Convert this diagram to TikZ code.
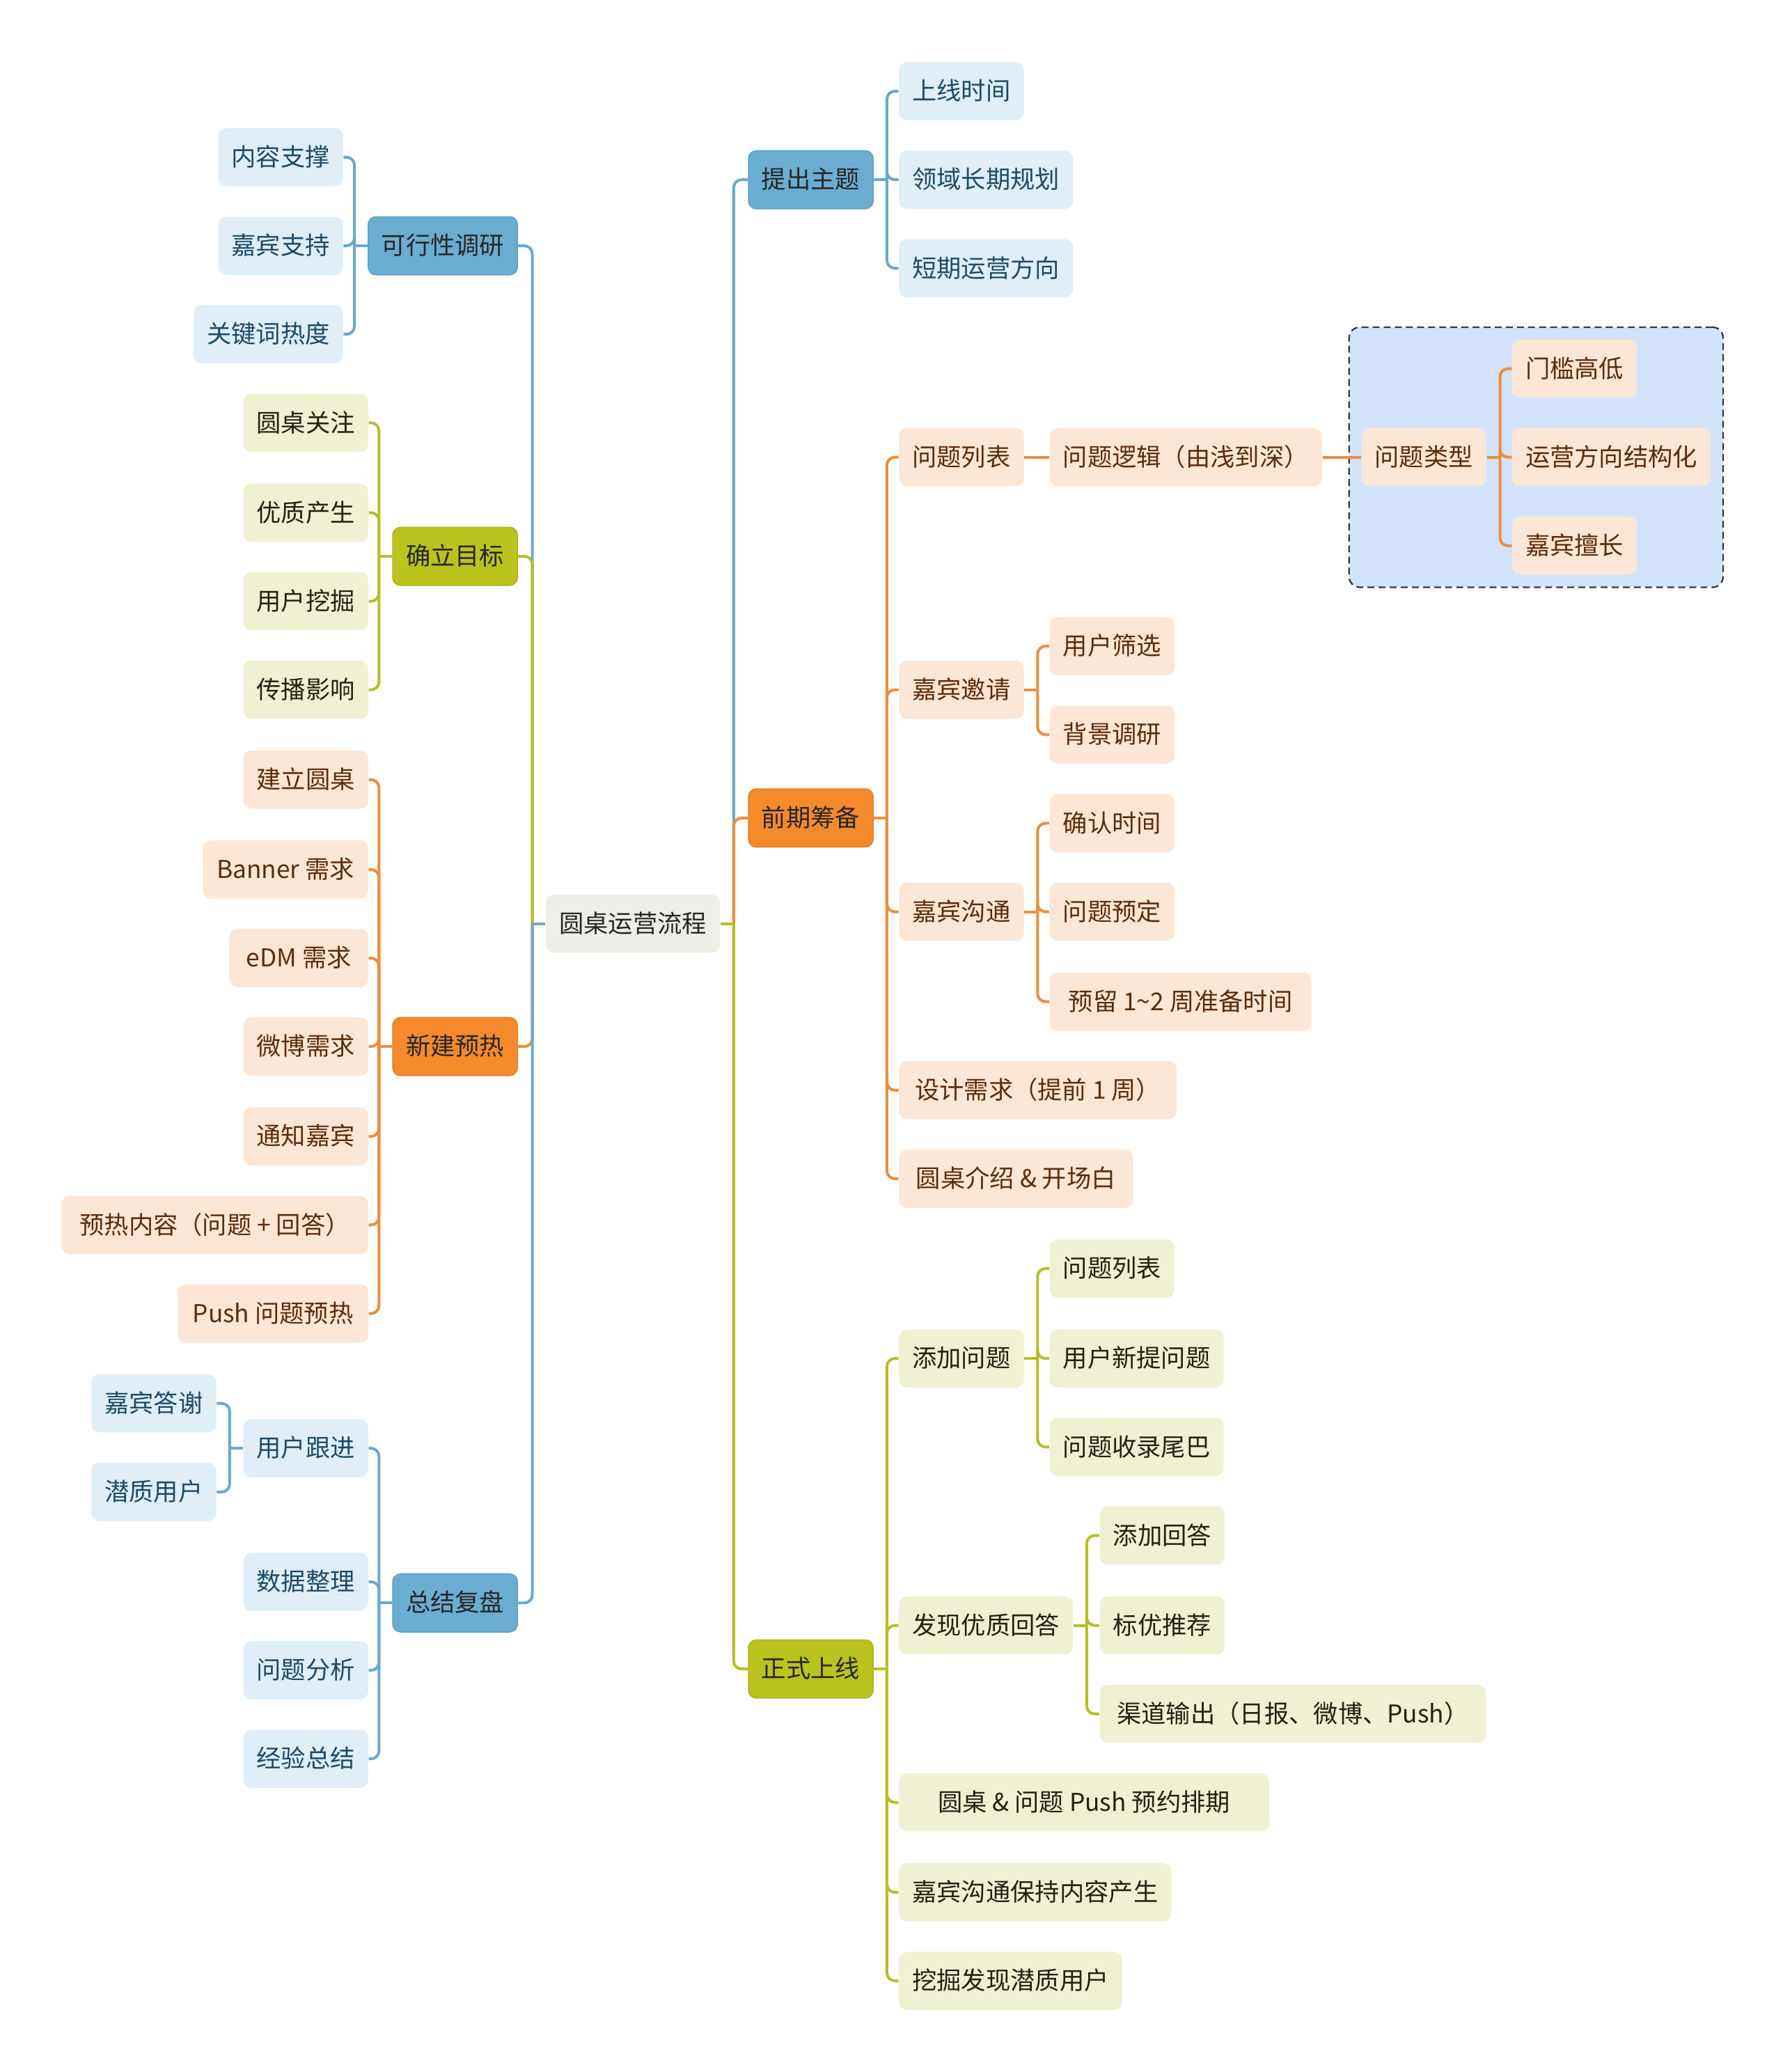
\documentclass[tikz,border=0pt]{standalone}
\usepackage{fontspec}
\setmainfont{Noto Sans CJK SC}
\usetikzlibrary{backgrounds,fit}
\definecolor{bluemain}{HTML}{6AADD0}
\definecolor{bluelight}{HTML}{DFEEF7}
\definecolor{bluetext}{HTML}{1D4A66}
\definecolor{blueline}{HTML}{6AA9CB}
\definecolor{orgmain}{HTML}{F58A2D}
\definecolor{orglight}{HTML}{FCE6D5}
\definecolor{orgtext}{HTML}{5C2C0C}
\definecolor{orgline}{HTML}{EE8D3C}
\definecolor{grnmain}{HTML}{BAC31E}
\definecolor{grnlight}{HTML}{EFF1D2}
\definecolor{grntext}{HTML}{222211}
\definecolor{grnline}{HTML}{B6BE27}
\definecolor{rootfill}{HTML}{EEEEE8}
\definecolor{boundfill}{HTML}{D3E3FB}
\definecolor{boundline}{HTML}{333840}
\tikzset{
  box/.style={rounded corners=3pt, minimum height=22pt, inner xsep=5pt, inner ysep=0pt,
    text height=7.3pt, text depth=0.6pt, font=\fontsize{9.3pt}{11pt}\selectfont},
  rootbox/.style={box, fill=rootfill, text=black!85},
  lvb/.style={box, fill=bluemain, draw=bluemain!92!black, line width=0.4pt, text=black!85},
  lvo/.style={box, fill=orgmain, draw=orgmain!92!black, line width=0.4pt, text=black!85},
  lvg/.style={box, fill=grnmain, draw=grnmain!92!black, line width=0.4pt, text=black!85},
  cb/.style={box, fill=bluelight, text=bluetext},
  co/.style={box, fill=orglight, text=orgtext},
  cg/.style={box, fill=grnlight, text=grntext},
  conn/.style={line width=1.05pt},
}
\newcommand\rconn[3]{%
  \draw[conn,#1] (#2.east) -- ++(10,0);
  \draw[conn,#1,rounded corners=3pt] ([xshift=5pt]#2.east) |- (#3.west);}
\newcommand\lconn[3]{%
  \draw[conn,#1] (#2.west) -- ++(-10,0);
  \draw[conn,#1,rounded corners=3pt] ([xshift=-5pt]#2.west) |- (#3.east);}
\begin{document}
\begin{tikzpicture}[x=0.5pt,y=-0.5pt]
\begin{pgfonlayer}{background}
\fill[white] (0,0) rectangle (1349,1568);
\end{pgfonlayer}
\useasboundingbox (0,0) rectangle (1349,1568);

% root
\node[rootbox] (root) at (479,699) {圆桌运营流程};

% right main topics
\node[lvb, anchor=west] (tc) at (566,136) {提出主题};
\node[lvo, anchor=west] (qq) at (566,619) {前期筹备};
\node[lvg, anchor=west] (zs) at (566,1263) {正式上线};

% left main topics
\node[lvb, anchor=east, minimum width=55.5pt] (kx) at (392,186) {可行性调研};
\node[lvg, anchor=east] (ql) at (392,421) {确立目标};
\node[lvo, anchor=east] (xj) at (392,792) {新建预热};
\node[lvb, anchor=east] (zj) at (392,1213) {总结复盘};

% 提出主题
\node[cb, anchor=west] (t1) at (680,69) {上线时间};
\node[cb, anchor=west] (t2) at (680,136) {领域长期规划};
\node[cb, anchor=west] (t3) at (680,203) {短期运营方向};

% 可行性调研
\node[cb, anchor=east] (k1) at (260,119) {内容支撑};
\node[cb, anchor=east] (k2) at (260,186) {嘉宾支持};
\node[cb, anchor=east] (k3) at (260,253) {关键词热度};

% 确立目标
\node[cg, anchor=east] (g1) at (279,320) {圆桌关注};
\node[cg, anchor=east] (g2) at (279,388) {优质产生};
\node[cg, anchor=east] (g3) at (279,455) {用户挖掘};
\node[cg, anchor=east] (g4) at (279,522) {传播影响};

% 新建预热
\node[co, anchor=east] (x1) at (279,590) {建立圆桌};
\node[co, anchor=east, minimum width=62.5pt] (x2) at (279,658) {Banner 需求};
\node[co, anchor=east, minimum width=52.5pt] (x3) at (279,725) {eDM 需求};
\node[co, anchor=east] (x4) at (279,792) {微博需求};
\node[co, anchor=east] (x5) at (279,860) {通知嘉宾};
\node[co, anchor=east, minimum width=116pt] (x6) at (279,927) {预热内容（问题 + 回答）};
\node[co, anchor=east, minimum width=72pt] (x7) at (279,994) {Push 问题预热};

% 总结复盘
\node[cb, anchor=east] (z1) at (279,1096) {用户跟进};
\node[cb, anchor=east] (z2) at (279,1197) {数据整理};
\node[cb, anchor=east] (z3) at (279,1264) {问题分析};
\node[cb, anchor=east] (z4) at (279,1331) {经验总结};
\node[cb, anchor=east] (z11) at (164,1062) {嘉宾答谢};
\node[cb, anchor=east] (z12) at (164,1129) {潜质用户};

% 前期筹备
\node[co, anchor=west] (p1) at (680,346) {问题列表};
\node[co, anchor=west] (p2) at (680,522) {嘉宾邀请};
\node[co, anchor=west] (p3) at (680,690) {嘉宾沟通};
\node[co, anchor=west, minimum width=105pt] (p4) at (680,825) {设计需求（提前 1 周）};
\node[co, anchor=west, minimum width=88.5pt] (p5) at (680,892) {圆桌介绍 \& 开场白};
\node[co, anchor=west, minimum width=103pt] (p11) at (794,346) {问题逻辑（由浅到深）};
\node[co, anchor=west] (p111) at (1030,346) {问题类型};
\node[co, anchor=west] (q1) at (1144,279) {门槛高低};
\node[co, anchor=west] (q2) at (1144,346) {运营方向结构化};
\node[co, anchor=west] (q3) at (1144,413) {嘉宾擅长};
\node[co, anchor=west] (p21) at (794,489) {用户筛选};
\node[co, anchor=west] (p22) at (794,556) {背景调研};
\node[co, anchor=west] (p31) at (794,623) {确认时间};
\node[co, anchor=west] (p32) at (794,690) {问题预定};
\node[co, anchor=west, minimum width=99pt] (p33) at (794,758) {预留 1\textasciitilde 2 周准备时间};

% 正式上线
\node[cg, anchor=west] (s1) at (680,1028) {添加问题};
\node[cg, anchor=west] (s2) at (680,1230) {发现优质回答};
\node[cg, anchor=west, minimum width=140pt] (s3) at (680,1364) {圆桌 \& 问题 Push 预约排期};
\node[cg, anchor=west] (s4) at (680,1432) {嘉宾沟通保持内容产生};
\node[cg, anchor=west] (s5) at (680,1499) {挖掘发现潜质用户};
\node[cg, anchor=west] (s11) at (794,960) {问题列表};
\node[cg, anchor=west] (s12) at (794,1028) {用户新提问题};
\node[cg, anchor=west] (s13) at (794,1095) {问题收录尾巴};
\node[cg, anchor=west] (s21) at (832,1162) {添加回答};
\node[cg, anchor=west] (s22) at (832,1230) {标优推荐};
\node[cg, anchor=west, minimum width=146pt] (s23) at (832,1297) {渠道输出（日报、微博、Push）};

% boundary
\begin{pgfonlayer}{background}
\node[fit=(p111)(q1)(q2)(q3), inner sep=4.5pt, rounded corners=4pt, fill=boundfill,
  draw=boundline, line width=0.6pt, dash pattern=on 2.6pt off 1.6pt] (bnd) {};
\end{pgfonlayer}

% connectors: root
\rconn{blueline}{root}{tc}
\rconn{orgline}{root}{qq}
\rconn{grnline}{root}{zs}
\lconn{blueline}{root}{kx}
\lconn{grnline}{root}{ql}
\lconn{orgline}{root}{xj}
\lconn{blueline}{root}{zj}

% 提出主题
\rconn{blueline}{tc}{t1}
\rconn{blueline}{tc}{t2}
\rconn{blueline}{tc}{t3}
% 可行性调研
\lconn{blueline}{kx}{k1}
\lconn{blueline}{kx}{k2}
\lconn{blueline}{kx}{k3}
% 确立目标
\lconn{grnline}{ql}{g1}
\lconn{grnline}{ql}{g2}
\lconn{grnline}{ql}{g3}
\lconn{grnline}{ql}{g4}
% 新建预热
\lconn{orgline}{xj}{x1}
\lconn{orgline}{xj}{x2}
\lconn{orgline}{xj}{x3}
\lconn{orgline}{xj}{x4}
\lconn{orgline}{xj}{x5}
\lconn{orgline}{xj}{x6}
\lconn{orgline}{xj}{x7}
% 总结复盘
\lconn{blueline}{zj}{z1}
\lconn{blueline}{zj}{z2}
\lconn{blueline}{zj}{z3}
\lconn{blueline}{zj}{z4}
\lconn{blueline}{z1}{z11}
\lconn{blueline}{z1}{z12}
% 前期筹备
\rconn{orgline}{qq}{p1}
\rconn{orgline}{qq}{p2}
\rconn{orgline}{qq}{p3}
\rconn{orgline}{qq}{p4}
\rconn{orgline}{qq}{p5}
\draw[conn,orgline] (p1.east) -- (p11.west);
\draw[conn,orgline] (p11.east) -- (p111.west);
\rconn{orgline}{p111}{q1}
\rconn{orgline}{p111}{q2}
\rconn{orgline}{p111}{q3}
\rconn{orgline}{p2}{p21}
\rconn{orgline}{p2}{p22}
\rconn{orgline}{p3}{p31}
\rconn{orgline}{p3}{p32}
\rconn{orgline}{p3}{p33}
% 正式上线
\rconn{grnline}{zs}{s1}
\rconn{grnline}{zs}{s2}
\rconn{grnline}{zs}{s3}
\rconn{grnline}{zs}{s4}
\rconn{grnline}{zs}{s5}
\rconn{grnline}{s1}{s11}
\rconn{grnline}{s1}{s12}
\rconn{grnline}{s1}{s13}
\rconn{grnline}{s2}{s21}
\rconn{grnline}{s2}{s22}
\rconn{grnline}{s2}{s23}
\end{tikzpicture}
\end{document}
